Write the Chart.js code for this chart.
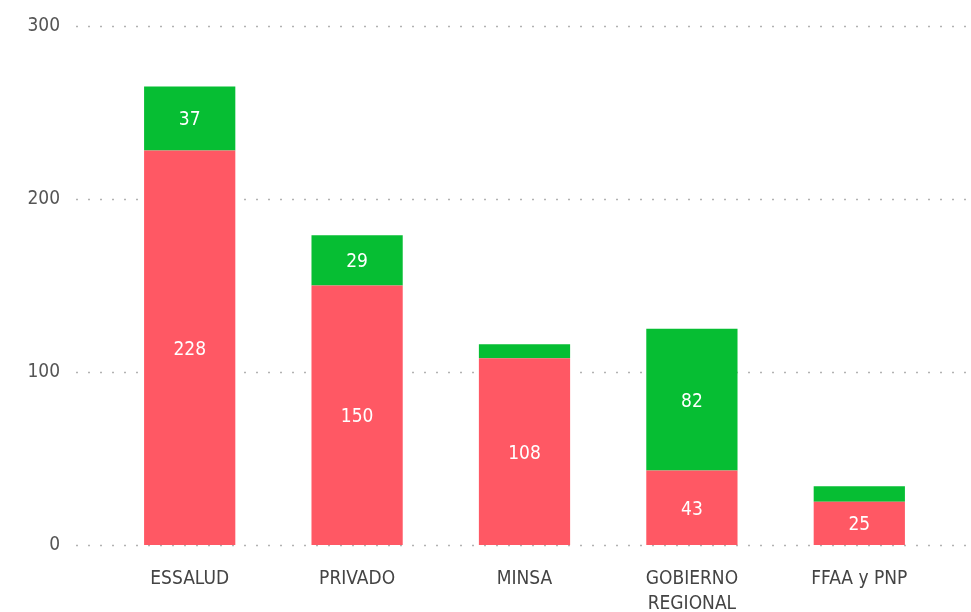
<!DOCTYPE html>
<html>
<head>
<meta charset="utf-8">
<script src="https://cdn.jsdelivr.net/npm/chart.js@4"></script>
<style>
  html, body { margin: 0; padding: 0; background: #fff; }
  #wrap { width: 971px; height: 612px; }
</style>
</head>
<body>
<div id="wrap"><canvas id="chart" width="971" height="612"></canvas></div>
<script>
// categorias y valores
const categories = ['ESSALUD', 'PRIVADO', 'MINSA', ['GOBIERNO', 'REGIONAL'], 'FFAA y PNP'];
const redValues = [228, 150, 108, 43, 25];
const greenValues = [37, 29, 8, 82, 9];
const yTicks = [0, 100, 200, 300];

const RED = '#FF5864';
const GREEN = '#06BE33';
const FONT = 'DejaVu Sans Condensed, DejaVu Sans';

// lineas punteadas que cruzan todo el ancho
const gridPlugin = {
    id: 'dotGrid',
    beforeDatasetsDraw(chart) {
        const ctx = chart.ctx;
        const y = chart.scales.y;
        ctx.save();
        ctx.strokeStyle = 'rgba(0,0,0,0.3)';
        ctx.lineWidth = 1.5;
        ctx.setLineDash([2, 10]);
        yTicks.forEach(v => {
            const py = Math.round(y.getPixelForValue(v)) + 0.5;
            ctx.beginPath();
            ctx.moveTo(76, py);
            ctx.lineTo(chart.width, py);
            ctx.stroke();
        });
        ctx.restore();
    }
};

// etiquetas dentro de las barras (solo si caben)
const labelPlugin = {
    id: 'barLabels',
    afterDatasetsDraw(chart) {
        const ctx = chart.ctx;
        ctx.save();
        ctx.fillStyle = '#fff';
        ctx.font = '19px "DejaVu Sans Condensed", "DejaVu Sans"';
        ctx.textAlign = 'center';
        ctx.textBaseline = 'middle';
        chart.data.datasets.forEach((ds, i) => {
            const meta = chart.getDatasetMeta(i);
            meta.data.forEach((bar, j) => {
                const h = Math.abs(bar.base - bar.y);
                if (h < 22) return;
                ctx.fillText(ds.data[j], bar.x, (bar.y + bar.base) / 2 + 2);
            });
        });
        ctx.restore();
    }
};

new Chart(document.getElementById('chart'), {
    type: 'bar',
    data: {
        labels: categories,
        datasets: [
            { data: redValues, backgroundColor: RED },
            { data: greenValues, backgroundColor: GREEN }
        ]
    },
    options: {
        responsive: false,
        animation: false,
        layout: { padding: { top: 26, right: 28, left: 0, bottom: 0 } },
        datasets: { bar: { barPercentage: 0.545, categoryPercentage: 1 } },
        plugins: { legend: { display: false }, tooltip: { enabled: false } },
        scales: {
            x: {
                stacked: true,
                grid: { display: false, drawTicks: false },
                border: { display: false },
                ticks: {
                    color: '#444',
                    padding: 22,
                    maxRotation: 0,
                    font: { family: FONT, size: 19, lineHeight: 1.3 }
                },
                afterFit(scale) { scale.height = 67; }
            },
            y: {
                stacked: true,
                min: 0,
                max: 300,
                afterBuildTicks(scale) { scale.ticks = yTicks.map(v => ({ value: v })); },
                grid: { display: false, drawTicks: false },
                border: { display: false },
                ticks: {
                    color: '#555',
                    padding: 46,
                    font: { family: FONT, size: 19 }
                },
                afterFit(scale) {
                    scale.width = 106;
                    // el padding de las etiquetas no debe empujar el area hacia abajo
                    scale.paddingTop = 0;
                    scale.paddingBottom = 0;
                }
            }
        }
    },
    plugins: [gridPlugin, labelPlugin]
});
</script>
</body>
</html>
